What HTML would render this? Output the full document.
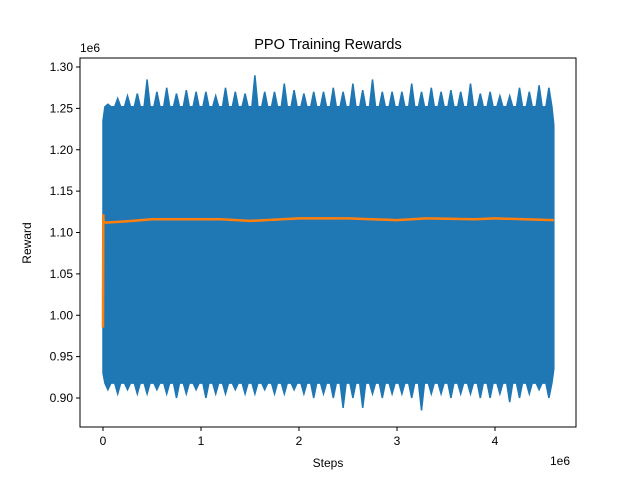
<!DOCTYPE html>
<html><head><meta charset="utf-8"><style>
body{margin:0;background:#fff}
svg{display:block;font-family:"Liberation Sans","DejaVu Sans",sans-serif}
</style></head><body>
<svg id="chart" width="640" height="480">
<rect width="640" height="480" fill="#fff"/>
</svg>
<script>
// data (steps in units of 1e6, rewards in units of 1e6)
const bandX = [0,0.05,0.15,0.25,0.35,0.45,0.55,0.65,0.75,0.85,0.95,1.05,1.15,1.25,1.35,1.45,1.55,1.65,1.75,1.85,1.95,2.05,2.15,2.25,2.35,2.45,2.55,2.65,2.75,2.85,2.95,3.05,3.15,3.25,3.35,3.45,3.55,3.65,3.75,3.85,3.95,4.05,4.15,4.25,4.35,4.45,4.55,4.6];
const bandUpper = [1.235,1.255,1.262,1.265,1.268,1.285,1.27,1.275,1.268,1.272,1.27,1.27,1.265,1.275,1.27,1.268,1.29,1.27,1.27,1.28,1.272,1.268,1.27,1.27,1.275,1.27,1.28,1.272,1.285,1.27,1.27,1.27,1.28,1.27,1.275,1.27,1.272,1.27,1.28,1.268,1.27,1.265,1.265,1.275,1.27,1.278,1.275,1.23];
const bandLower = [0.93,0.91,0.905,0.91,0.905,0.905,0.91,0.905,0.90,0.905,0.91,0.90,0.905,0.905,0.91,0.905,0.905,0.91,0.905,0.905,0.91,0.905,0.90,0.905,0.90,0.888,0.90,0.888,0.905,0.90,0.905,0.905,0.90,0.885,0.905,0.905,0.90,0.905,0.905,0.90,0.90,0.905,0.895,0.90,0.905,0.91,0.9,0.935];
const bodyUpper = 1.252;
const bodyLower = 0.918;
const avgX = [0,0.003,0.006,0.03,0.3,0.5,1.2,1.5,2.0,2.5,3.0,3.3,3.8,4.0,4.6];
const avgY = [0.985,1.122,1.113,1.112,1.114,1.116,1.116,1.114,1.117,1.117,1.115,1.117,1.116,1.117,1.115];
const xTicks = [0,1,2,3,4];
const yTicks = [0.90,0.95,1.00,1.05,1.10,1.15,1.20,1.25,1.30];

const L=80,R=576,T=58,B=427;
const xs = v => 103 + v*98;
const ys = v => 398 - (v-0.90)*(331/0.40);
const svg = document.getElementById('chart');
const NS='http://www.w3.org/2000/svg';
function mk(tag, attrs, parent){const e=document.createElementNS(NS,tag);for(const k in attrs)e.setAttribute(k,attrs[k]);(parent||svg).appendChild(e);return e;}

// band with spiky edges
const n=bandX.length;
let edgeTop=[], edgeBot=[];
for(let i=0;i<n;i++){
  const x=xs(bandX[i]);
  if(i>0 && i<n-1){
    edgeTop.push((x-3)+','+ys(Math.min(bodyUpper,bandUpper[i])));
    edgeTop.push(x+','+ys(bandUpper[i]));
    edgeTop.push((x+3)+','+ys(Math.min(bodyUpper,bandUpper[i])));
    edgeBot.push((x-3)+','+ys(Math.max(bodyLower,bandLower[i])));
    edgeBot.push(x+','+ys(bandLower[i]));
    edgeBot.push((x+3)+','+ys(Math.max(bodyLower,bandLower[i])));
  } else {
    edgeTop.push(x+','+ys(bandUpper[i]));
    edgeBot.push(x+','+ys(bandLower[i]));
  }
}
const bandPts=edgeTop.concat(edgeBot.reverse());
const band=mk('polygon',{points:bandPts.join(' '),fill:'#1f77b4',stroke:'#1f77b4','stroke-width':1.5,'stroke-linejoin':'miter'});



// average line
const avg=mk('polyline',{points:avgX.map((x,i)=>xs(x)+','+ys(avgY[i])).join(' '),fill:'none',stroke:'#ff7f0e','stroke-width':2.5});



// frame
const fr=mk('rect',{x:L,y:T,width:R-L,height:B-T,fill:'none',stroke:'#000','stroke-width':1});



xTicks.forEach(t=>{
  const x=xs(t);
  mk('line',{x1:x,x2:x,y1:B,y2:B+4,stroke:'#000'});
  const tx=mk('text',{x:x,y:B+18,'font-size':12,'text-anchor':'middle'});
  tx.textContent=t;
  
  
});
yTicks.forEach(t=>{
  const y=ys(t);
  mk('line',{x1:L-4,x2:L,y1:y,y2:y,stroke:'#000'});
  const tx=mk('text',{x:L-7,y:y+4,'font-size':12,'text-anchor':'end'});
  tx.textContent=t.toFixed(2);
  
  
});
function label(txt,attrs,name){const e=mk('text',attrs);e.textContent=txt;}
label('1e6',{x:80,y:52,'font-size':12},'y-offset-label');
label('1e6',{x:550,y:465,'font-size':12},'x-offset-label');
label('PPO Training Rewards',{x:328,y:49,'font-size':14.5,'text-anchor':'middle'},'chart-title');
label('Steps',{x:328,y:467,'font-size':12,'text-anchor':'middle'},'x-axis-title');
label('Reward',{x:31,y:243,'font-size':12,'text-anchor':'middle',transform:'rotate(-90 31 243)'},'y-axis-title');
</script>
</body></html>
